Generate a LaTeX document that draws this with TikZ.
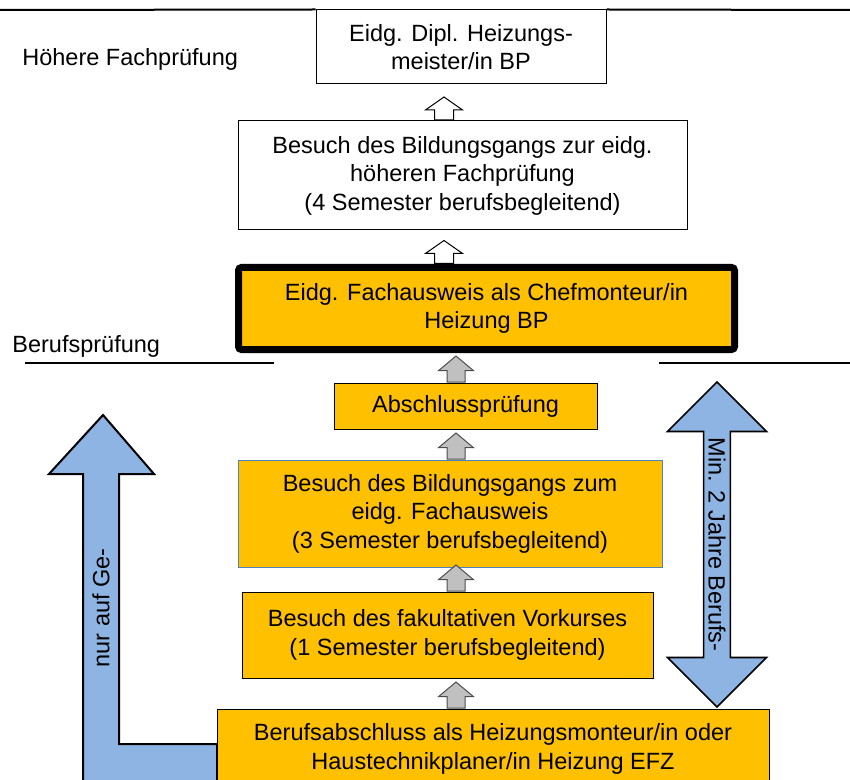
\documentclass[tikz,border=0pt]{standalone}
\usepackage{fontspec}
\setmainfont{Liberation Sans}
\usetikzlibrary{shapes.arrows}

\definecolor{stufeorange}{HTML}{FFC000}
\definecolor{pfeilblau}{HTML}{8EB4E3}
\definecolor{randblau}{HTML}{4F81BD}
\definecolor{pfeilgrau}{HTML}{C0C0C0}

\begin{document}
\begin{tikzpicture}[x=0.5pt, y=-0.5pt,
    font=\fontsize{11.75pt}{14.25pt}\selectfont,
    kasten/.style={draw, fill=white, align=center, inner sep=0pt, line width=0.5pt},
    kastenorange/.style={kasten, fill=stufeorange},
    hochpfeil/.style={single arrow, draw, fill=white, line width=0.5pt, rotate=90,
      single arrow tip angle=110, minimum height=11.5pt, minimum width=1pt,
      single arrow head extend=4.5pt, inner xsep=0pt, inner ysep=4.5pt, anchor=tail},
    graupfeil/.style={hochpfeil, fill=pfeilgrau, draw=black!70, single arrow tip angle=100,
      minimum height=13pt, single arrow head extend=4.25pt, inner ysep=4.25pt},
    trenner/.style={line width=0.8pt}]
  \useasboundingbox (0,0) rectangle (850,780);
  \clip (0,0) rectangle (850,780);

  % Weg ueber die Gleichwertigkeit (links)
  \draw [fill = pfeilblau, line width = 1pt] (83,800) -- (83,474) -- (49,474) -- (103,415)
    -- (154,474) -- (119,474) -- (119,744) -- (217,744) -- (217,800) -- cycle;
  \node [rotate = 90] (umweg) at (101,608) {nur auf Ge-};

  % Stufen
  \node [kasten, minimum width = 145pt, minimum height = 37pt] (dipl) at (461,47)
    {Eidg. Dipl. Heizungs-\\meister/in BP};
  \node [kasten, minimum width = 224.5pt, minimum height = 54.5pt] (hfpkurs) at (462.5,175.5)
    {Besuch des Bildungsgangs zur eidg.\\höheren Fachprüfung\\(4 Semester berufsbegleitend)};
  \node [kastenorange, line width = 3.5pt, rounded corners = 1.5pt,
    minimum width = 248pt, minimum height = 41pt] (fachausweis) at (486.5,308.5)
    {Eidg. Fachausweis als Chefmonteur/in\\Heizung BP};
  \node [kastenorange, minimum width = 131.5pt, minimum height = 23pt] (pruefung) at (465.5,406)
    {Abschlussprüfung};
  \node [kastenorange, draw = randblau, minimum width = 212pt, minimum height = 53.5pt] (bpkurs)
    at (450,513.5)
    {Besuch des Bildungsgangs zum\\eidg. Fachausweis\\(3 Semester berufsbegleitend)};
  \node [kastenorange, minimum width = 205.5pt, minimum height = 43pt] (vorkurs) at (447.5,635)
    {Besuch des fakultativen Vorkurses\\(1 Semester berufsbegleitend)};
  \node [kastenorange, minimum width = 276pt, minimum height = 40pt] (efz) at (493,749)
    {Berufsabschluss als Heizungsmonteur/in oder\\Haustechnikplaner/in Heizung EFZ};

  % Ebenen
  \node [anchor = base west, inner sep = 0pt] (hfp) at (22,66) {Höhere Fachprüfung};
  \node [anchor = base west, inner sep = 0pt] (bp) at (12,352) {Berufsprüfung};
  \draw [line width = 1pt] (0,10) -- (dipl.north west);
  \draw [line width = 1pt] (dipl.north east) -- (850,10);
  \draw [trenner] (25,363) -- (274,363);
  \draw [trenner] (659,363) -- (850,363);

  % Pfeile zwischen den Stufen
  \coordinate (oben) at (450,0);
  \coordinate (unten) at (456,0);
  \node [hochpfeil, yshift = 3pt] (p1) at (hfpkurs.north -| oben) {};
  \node [hochpfeil, yshift = 3pt] (p2) at (fachausweis.north -| oben) {};
  \node [graupfeil] (p3) at (pruefung.north -| unten) {};
  \node [graupfeil] (p4) at (bpkurs.north -| unten) {};
  \node [graupfeil] (p5) at (vorkurs.north -| unten) {};
  \node [graupfeil] (p6) at (efz.north -| unten) {};

  % Berufspraxis
  \node [double arrow, draw, fill = pfeilblau, line width = 0.8pt, rotate = -90,
    minimum height = 162.5pt, minimum width = 49.5pt, double arrow head extend = 12.75pt,
    inner sep = 0pt] (praxis) at (717,544.5) {Min. 2 Jahre Berufs-};
\end{tikzpicture}
\end{document}
